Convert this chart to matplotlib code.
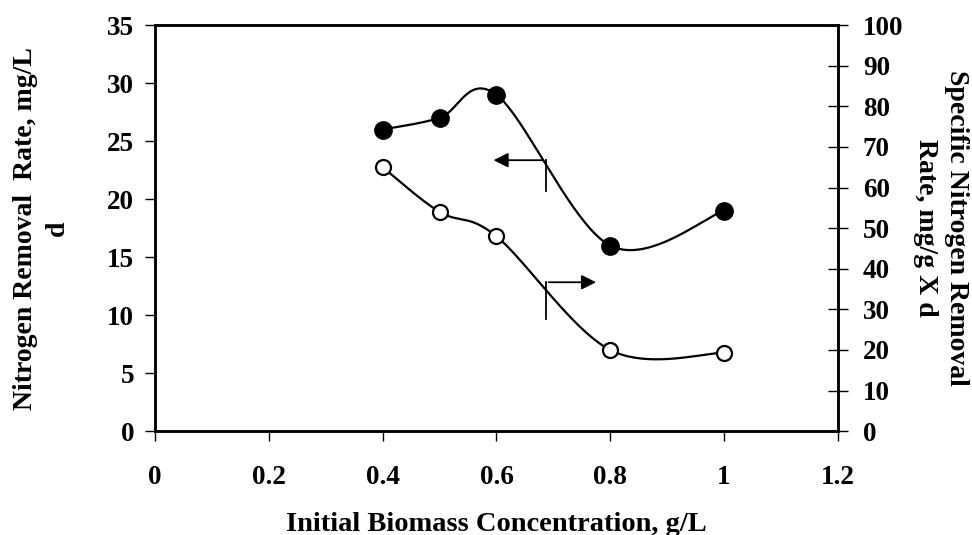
import numpy as np
import matplotlib.pyplot as plt

# data
biomass = [0.4, 0.5, 0.6, 0.8, 1.0]
removal_rate = [26, 27, 29, 16, 19]          # left axis, filled circles
specific_rate = [65, 54, 48, 20, 19.3]       # right axis, open circles

plt.rcParams['font.family'] = ['Liberation Serif', 'DejaVu Serif']
plt.rcParams['font.weight'] = 'bold'


def smooth(x, y, xmax, ymax, n=40):
    # Excel-style smoothed line (bezier through the points)
    px = np.array(x) / xmax
    py = np.array(y) / ymax
    pts = np.column_stack([px, py])
    out = []
    for i in range(len(pts) - 1):
        p0 = pts[i - 1] if i > 0 else pts[i]
        p1 = pts[i]
        p2 = pts[i + 1]
        p3 = pts[i + 2] if i + 2 < len(pts) else pts[i + 1]
        c1 = p1 + (p2 - p0) / 6
        c2 = p2 - (p3 - p1) / 6
        t = np.linspace(0, 1, n)[:, None]
        seg = ((1 - t) ** 3) * p1 + 3 * ((1 - t) ** 2) * t * c1 + 3 * (1 - t) * t ** 2 * c2 + t ** 3 * p2
        out.append(seg)
    out = np.vstack(out)
    return out[:, 0] * xmax, out[:, 1] * ymax


fig = plt.figure(figsize=(9.72, 5.35), dpi=100)
ax = fig.add_axes([0.1595, 0.194, 0.7025, 0.759])
ax2 = ax.twinx()

sx, sy = smooth(biomass, removal_rate, 1.2, 35)
ax.plot(sx, sy, color='black', lw=1.6, zorder=2)
ax.plot(biomass, removal_rate, 'o', color='black', ms=12.5, zorder=3)

sx2, sy2 = smooth(biomass, specific_rate, 1.2, 100)
ax2.plot(sx2, sy2, color='black', lw=1.6, zorder=2)
ax2.plot(biomass, specific_rate, 'o', mfc='white', mec='black', mew=1.6, ms=10.8, zorder=3)

# arrows showing which axis each curve belongs to
ax.plot([0.687, 0.687], [20.7, 23.36], color='black', lw=1.3)
ax.annotate('', xy=(0.59, 23.36), xytext=(0.687, 23.36),
            arrowprops=dict(arrowstyle='-|>', color='black', lw=1.3, mutation_scale=22))
ax.plot([0.687, 0.687], [9.66, 12.84], color='black', lw=1.3)
ax.annotate('', xy=(0.78, 12.84), xytext=(0.687, 12.84),
            arrowprops=dict(arrowstyle='-|>', color='black', lw=1.3, mutation_scale=22))

ax.set_xlim(0, 1.2)
ax.set_ylim(0, 35)
ax2.set_ylim(0, 100)
ax.set_xticks([0, 0.2, 0.4, 0.6, 0.8, 1.0, 1.2])
ax.set_xticklabels(['0', '0.2', '0.4', '0.6', '0.8', '1', '1.2'])
ax.set_yticks(range(0, 36, 5))
ax2.set_yticks(range(0, 101, 10))

ax.tick_params(axis='x', direction='out', length=7, width=1, labelsize=19.5, pad=17)
ax.tick_params(axis='y', direction='out', length=7, width=1, labelsize=19.5, pad=8)
ax2.tick_params(axis='y', direction='inout', length=14, width=1, labelsize=19.5, pad=11)

for a in (ax, ax2):
    for s in a.spines.values():
        s.set_linewidth(1.8)

ax.set_xlabel('Initial Biomass Concentration, g/L', fontsize=20.5, fontweight='bold', labelpad=16)
ax.set_ylabel('Nitrogen Removal  Rate, mg/L\nd', fontsize=20, fontweight='bold',
              linespacing=1.35, va='center')
ax.yaxis.set_label_coords(-0.166, 0.5)
ax2.set_ylabel('Specific Nitrogen Removal\nRate, mg/g X d', fontsize=20, fontweight='bold',
               rotation=270, linespacing=1.35, va='center')
ax2.yaxis.set_label_coords(1.151, 0.5)

fig.savefig('out.png', dpi=100)
